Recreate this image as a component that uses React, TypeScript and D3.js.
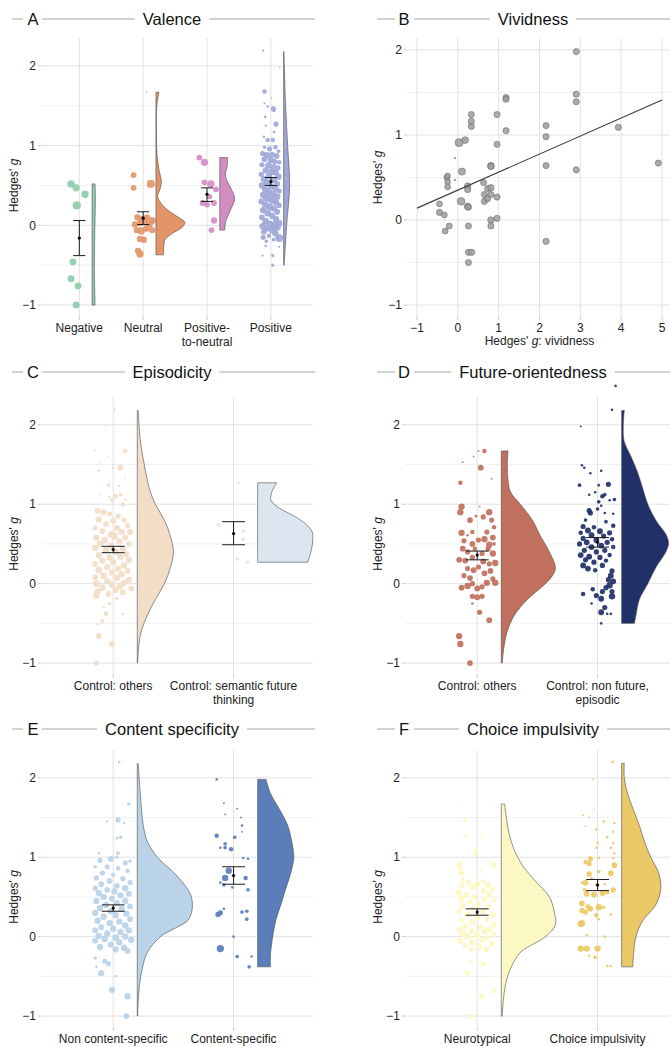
import React, { useEffect, useRef } from 'react';
import * as d3 from 'd3';

// [jitter in category units, Hedges' g, study weight]
type Pt = [number, number, number];
// [Hedges' g, density]
type Dens = [number, number];
// [mean, ci low, ci high]
type Stat = [number, number, number];

// ---------- A: Valence ----------
const valenceCats = ['Negative', 'Neutral', 'Positive-\nto-neutral', 'Positive'];
const valenceColors = ['#8FCCAB', '#E3956A', '#D28EC3', '#9EA7D8'];
const valenceStats: Stat[] = [[-0.16, -0.38, 0.06], [0.09, 0.01, 0.17], [0.39, 0.30, 0.47], [0.55, 0.50, 0.60]];

const negativePts: Pt[] = [
  [-0.13, 0.52, 80], [-0.05, 0.47, 80], [0.09, 0.39, 80], [-0.04, 0.25, 100],
  [-0.10, -0.46, 70], [-0.13, -0.67, 70], [-0.02, -0.76, 70], [-0.05, -1.0, 70],
];
const neutralPts: Pt[] = [
  [0.05, 1.67, 3], [-0.15, 0.63, 50], [-0.15, 0.47, 50], [0.12, 0.52, 100], [-0.09, 0.10, 60],
  [-0.02, 0.08, 60], [0.06, 0.10, 60], [0.14, 0.06, 80], [-0.13, 0.01, 60], [-0.05, 0.03, 60],
  [0.03, 0.05, 60], [0.10, 0.01, 60], [-0.10, -0.06, 60], [-0.03, -0.07, 80], [0.05, -0.04, 60],
  [0.14, -0.06, 60], [-0.05, -0.17, 60], [0.01, -0.18, 60], [-0.08, -0.32, 60], [-0.05, -0.36, 80],
];
const posNeutralPts: Pt[] = [
  [-0.12, 0.85, 50], [-0.04, 0.79, 80], [-0.04, 0.54, 50], [0.06, 0.52, 80], [0.14, 0.45, 50],
  [-0.07, 0.28, 50], [0.0, 0.26, 50], [0.11, 0.28, 50], [0.11, 0.06, 60], [0.07, -0.06, 50], [0.04, 0.36, 40],
];
const positivePts: Pt[] = [
  [-0.12, 2.19, 8], [0.14, 1.98, 4], [-0.10, 1.68, 30], [0.01, 1.60, 4], [-0.10, 1.53, 6], [-0.05, 1.49, 10],
  [0.04, 1.46, 40], [0.05, 1.43, 8], [-0.09, 1.36, 10], [0.08, 1.27, 40], [-0.08, 1.25, 8], [0.05, 1.17, 10],
  [-0.11, 1.11, 10], [-0.05, 1.07, 30], [0.03, 1.07, 30], [-0.10, 0.98, 20], [0.07, 0.98, 30], [-0.02, 0.96, 40],
  [0.12, 0.93, 20], [-0.13, 0.90, 40], [-0.06, 0.88, 60], [0.02, 0.89, 40], [0.09, 0.87, 50], [-0.10, 0.83, 50],
  [0.0, 0.82, 60], [0.06, 0.80, 40], [0.13, 0.79, 30], [-0.14, 0.76, 40], [-0.04, 0.75, 60], [0.04, 0.73, 60],
  [0.11, 0.72, 40], [-0.08, 0.69, 60], [0.01, 0.67, 60], [0.08, 0.66, 50], [-0.15, 0.64, 40], [-0.03, 0.62, 60],
  [0.12, 0.61, 60], [-0.11, 0.58, 60], [0.05, 0.57, 60], [-0.06, 0.54, 60], [0.10, 0.52, 50], [-0.14, 0.50, 60],
  [0.0, 0.49, 60], [0.07, 0.46, 60], [-0.09, 0.45, 60], [0.13, 0.43, 40], [-0.03, 0.41, 80], [0.04, 0.39, 60],
  [-0.12, 0.38, 60], [0.10, 0.36, 60], [-0.06, 0.34, 80], [0.02, 0.32, 80], [-0.15, 0.30, 50], [0.08, 0.29, 60],
  [-0.09, 0.26, 60], [0.13, 0.25, 40], [-0.02, 0.23, 80], [0.05, 0.21, 60], [-0.12, 0.19, 60], [0.10, 0.17, 50],
  [-0.05, 0.15, 60], [0.02, 0.12, 60], [-0.14, 0.10, 50], [0.08, 0.08, 60], [-0.08, 0.05, 70], [0.13, 0.03, 60],
  [-0.01, 0.01, 80], [0.06, 0.0, 90], [-0.13, -0.01, 60], [0.10, -0.02, 80], [-0.07, -0.04, 60], [0.02, -0.06, 70],
  [-0.11, -0.08, 50], [0.07, -0.10, 60], [-0.03, -0.13, 30], [0.13, -0.16, 90], [-0.12, -0.15, 40], [0.04, -0.18, 20],
  [-0.07, -0.20, 20], [0.13, -0.27, 8], [-0.08, -0.26, 10], [-0.13, -0.38, 8], [0.03, -0.38, 15], [0.03, -0.50, 15],
];

const negativeDens: Dens[] = [[0.52, 0.47], [0.3, 0.52], [0, 0.44], [-0.3, 0.38], [-0.6, 0.36], [-0.8, 0.41], [-1, 0.47]];
const neutralDens: Dens[] = [
  [1.67, 0.47], [1.5, 0.13], [1.2, 0.08], [0.9, 0.16], [0.7, 0.47], [0.55, 0.86], [0.45, 0.63], [0.36, 0.27],
  [0.23, 1.3], [0.15, 2.6], [0.08, 3.9], [0.04, 4.53], [-0.02, 4.17], [-0.1, 2.6], [-0.18, 1.41], [-0.25, 1.25], [-0.37, 1.2],
];
const posNeutralDens: Dens[] = [[0.85, 1.2], [0.75, 1.17], [0.62, 0.89], [0.45, 1.83], [0.33, 2.34], [0.2, 1.72], [0.05, 0.94], [-0.06, 0.78]];
const positiveDens: Dens[] = [[2.18, 0.05], [2.0, 0.11], [1.5, 0.31], [1.0, 0.63], [0.5, 0.94], [0.0, 0.47], [-0.3, 0.23], [-0.5, 0.08]];

// ---------- B: Vividness ----------
// [g vividness, g, weight]
const vividPts: Pt[] = [
  [2.9, 1.98, 60], [2.9, 1.48, 60], [2.9, 1.39, 60], [2.9, 0.59, 60], [1.18, 1.44, 60], [1.18, 1.42, 60], [1.18, 1.05, 60],
  [0.33, 1.24, 60], [0.33, 1.16, 60], [0.33, 1.10, 60], [0.96, 1.24, 60], [0.96, 0.89, 60], [2.16, 1.11, 60], [2.16, 0.98, 60],
  [2.16, 0.64, 60], [2.16, -0.25, 60], [3.93, 1.09, 60], [4.91, 0.67, 60], [0.03, 0.91, 100], [0.18, 0.94, 70], [-0.07, 0.73, 4],
  [-0.07, 0.47, 4], [0.1, 0.57, 80], [-0.27, 0.5, 55], [-0.25, 0.52, 50], [-0.25, 0.45, 50], [-0.25, 0.39, 55], [0.24, 0.40, 65],
  [0.24, 0.36, 65], [0.63, 0.44, 60], [0.65, 0.30, 60], [0.65, 0.22, 60], [0.73, 0.37, 60], [0.73, 0.25, 60], [0.81, 0.64, 65],
  [0.81, 0.63, 65], [0.81, 0.38, 65], [0.81, 0.30, 60], [0.96, 0.27, 60], [0.08, 0.22, 90], [0.24, 0.16, 70], [0.26, 0.15, 60],
  [-0.45, 0.19, 55], [-0.45, 0.09, 60], [-0.33, 0.06, 55], [-0.21, -0.07, 55], [-0.31, -0.13, 55], [0.26, -0.07, 60],
  [0.81, 0.0, 65], [0.81, -0.07, 60], [0.96, 0.02, 60], [0.26, -0.38, 60], [0.34, -0.38, 60], [0.26, -0.5, 60],
];
const vividFit: [number, number][] = [[-1, 0.14], [5, 1.41]];
const vividTicks = [-1, 0, 1, 2, 3, 4, 5];

// ---------- C: Episodicity ----------
const episodCats = ['Control: others', 'Control: semantic future\nthinking'];
const episodColors = ['#F2DDC7', '#DCE6F1'];
const episodStats: Stat[] = [[0.43, 0.39, 0.47], [0.63, 0.49, 0.78]];
const episodOthersPts: Pt[] = [
  [0.01, 2.19, 10], [-0.06, 1.98, 5], [-0.15, 1.68, 5], [0.10, 1.67, 30], [-0.05, 1.60, 5], [-0.11, 1.53, 5], [0.06, 1.46, 50],
  [0.0, 1.46, 10], [-0.12, 1.42, 10], [0.10, 1.32, 5], [-0.04, 1.24, 20], [0.05, 1.23, 10], [-0.11, 1.12, 5], [0.02, 1.10, 30],
  [-0.03, 1.09, 10], [0.06, 1.12, 20], [-0.01, 1.05, 20], [0.10, 1.06, 10], [0.08, 1.0, 30],
  [-0.13, 0.92, 50], [-0.08, 0.90, 60], [-0.03, 0.88, 40], [0.04, 0.85, 40], [-0.12, 0.81, 60], [0.0, 0.79, 50], [0.09, 0.80, 40],
  [-0.06, 0.75, 50], [0.12, 0.73, 40], [-0.15, 0.70, 40], [0.03, 0.70, 60], [-0.09, 0.66, 50], [0.07, 0.65, 60], [0.14, 0.65, 60],
  [-0.02, 0.62, 60], [0.01, 0.60, 80], [-0.14, 0.58, 60], [0.10, 0.58, 50], [-0.07, 0.55, 60], [0.05, 0.53, 60], [-0.11, 0.50, 60],
  [0.13, 0.50, 50], [-0.02, 0.48, 60], [-0.15, 0.45, 60], [0.08, 0.44, 60], [-0.06, 0.42, 60], [0.02, 0.40, 60], [0.11, 0.37, 50],
  [-0.12, 0.36, 60], [0.06, 0.34, 60], [-0.03, 0.33, 60], [0.13, 0.30, 60], [-0.09, 0.29, 60], [0.0, 0.27, 60], [-0.15, 0.25, 50],
  [0.09, 0.23, 60], [-0.05, 0.21, 60], [0.04, 0.19, 60], [-0.12, 0.17, 70], [0.12, 0.16, 50], [-0.01, 0.14, 60], [0.07, 0.12, 60],
  [-0.08, 0.10, 60], [-0.15, 0.08, 50], [0.03, 0.07, 70], [0.13, 0.05, 60], [-0.05, 0.03, 60], [0.09, 0.01, 60], [-0.14, 0.0, 70],
  [-0.01, -0.01, 60], [0.06, -0.03, 70], [0.15, -0.06, 50], [-0.09, -0.05, 60], [0.02, -0.08, 60], [-0.13, -0.10, 60],
  [0.08, -0.11, 50], [-0.04, -0.13, 50], [-0.14, -0.15, 60],
  [0.03, -0.19, 20], [-0.03, -0.25, 20], [-0.08, -0.29, 10], [-0.06, -0.38, 30], [0.08, -0.38, 10], [-0.13, -0.51, 10],
  [-0.09, -0.47, 30], [-0.12, -0.66, 50], [-0.01, -0.76, 50], [-0.14, -1.0, 40],
];
const episodSemanticPts: Pt[] = [[-0.125, 0.74, 20], [0.083, 0.66, 20], [0.078, 0.56, 20], [0.033, 0.31, 20], [0.117, 0.27, 20], [0.042, 1.27, 10]];
const episodOthersDens: Dens[] = [
  [2.18, 0.08], [1.8, 0.25], [1.5, 0.58], [1.2, 1.0], [1.0, 1.5], [0.8, 2.25], [0.6, 2.75], [0.4, 3.0], [0.2, 2.75],
  [0.0, 2.25], [-0.2, 1.5], [-0.4, 0.83], [-0.6, 0.33], [-0.8, 0.11], [-1, 0.03],
];
const episodSemanticDens: Dens[] = [
  [1.27, 1.58], [1.15, 1.17], [1.05, 1.11], [0.95, 1.81], [0.85, 3.06], [0.75, 4.0], [0.65, 4.54], [0.55, 4.58],
  [0.45, 4.5], [0.35, 4.33], [0.27, 4.17],
];

// ---------- D: Future-orientedness ----------
const futureCats = ['Control: others', 'Control: non future,\nepisodic'];
const futureColors = ['#C0705C', '#22306A'];
const futureStats: Stat[] = [[0.36, 0.30, 0.41], [0.52, 0.46, 0.58]];
const futureOthersPts: Pt[] = [
  [0.01, 1.67, 5], [0.06, 1.67, 30], [-0.03, 1.60, 5], [-0.12, 1.53, 5], [0.03, 1.46, 50], [0.12, 1.32, 5], [-0.14, 1.27, 30],
  [0.02, 0.97, 5], [-0.13, 0.97, 60], [-0.14, 0.90, 60], [-0.06, 0.80, 50], [-0.01, 0.85, 10], [0.05, 0.84, 40], [0.10, 0.90, 60],
  [0.12, 0.80, 40], [0.14, 0.71, 30], [-0.13, 0.64, 60], [-0.04, 0.65, 30], [0.08, 0.65, 40], [-0.08, 0.61, 10], [-0.11, 0.54, 40],
  [-0.04, 0.50, 50], [0.01, 0.55, 40], [0.06, 0.56, 60], [0.10, 0.49, 60], [0.14, 0.50, 20], [-0.08, 0.40, 40], [-0.15, 0.30, 50],
  [-0.10, 0.29, 50], [-0.04, 0.33, 40], [0.04, 0.38, 40], [0.13, 0.38, 60], [0.15, 0.26, 60], [0.10, 0.25, 40], [-0.08, 0.19, 40],
  [-0.03, 0.17, 50], [0.01, 0.21, 40], [0.06, 0.13, 50], [0.13, 0.06, 40], [0.08, 0.01, 60], [0.15, 0.01, 60], [-0.13, -0.05, 50],
  [-0.08, -0.03, 60], [-0.04, 0.0, 40], [0.0, -0.06, 50], [0.04, -0.04, 40], [-0.04, -0.16, 40], [0.0, -0.17, 50], [0.04, -0.16, 40],
  [-0.04, -0.25, 10], [0.02, -0.36, 40], [0.10, -0.46, 50], [-0.15, -0.66, 60], [-0.14, -0.76, 60], [-0.06, -1.0, 50],
  [-0.12, 0.44, 50], [0.09, 0.44, 40], [-0.02, 0.44, 30], [0.11, 0.16, 50], [-0.11, 0.10, 40], [0.05, 0.28, 50], [-0.06, 0.07, 50], [0.13, 0.58, 50],
];
const futureEpisodicPts: Pt[] = [
  [0.15, 2.49, 10], [0.12, 2.19, 10], [-0.14, 1.98, 5], [-0.13, 1.49, 10], [-0.11, 1.46, 10], [0.03, 1.42, 10], [-0.06, 1.39, 10],
  [-0.15, 1.24, 20], [0.01, 1.24, 10], [0.09, 1.25, 40], [-0.07, 1.12, 10], [-0.02, 1.15, 10], [0.04, 1.10, 30], [0.06, 1.12, 20],
  [0.14, 1.06, 20], [0.01, 1.03, 20], [0.03, 0.98, 10], [0.10, 1.05, 10], [-0.07, 0.92, 40], [-0.06, 0.89, 40], [0.0, 0.94, 20],
  [0.06, 0.89, 10], [0.13, 0.88, 10],
  [-0.10, 0.80, 20], [0.07, 0.78, 20], [-0.12, 0.72, 40], [-0.03, 0.71, 30], [0.13, 0.73, 30], [-0.08, 0.67, 50], [0.02, 0.66, 50],
  [-0.14, 0.64, 30], [0.10, 0.64, 40], [-0.05, 0.61, 50], [0.05, 0.60, 40], [-0.12, 0.57, 40], [0.12, 0.56, 30], [-0.01, 0.55, 50],
  [-0.09, 0.52, 50], [0.08, 0.52, 40], [-0.15, 0.50, 40], [0.03, 0.48, 50], [-0.05, 0.46, 50], [0.13, 0.46, 30], [-0.11, 0.42, 40],
  [0.06, 0.42, 40], [-0.01, 0.40, 40], [-0.14, 0.36, 50], [-0.07, 0.34, 50], [0.10, 0.36, 30], [0.02, 0.33, 40], [-0.10, 0.30, 40],
  [0.07, 0.29, 30], [-0.03, 0.27, 40], [-0.12, 0.23, 50], [0.04, 0.23, 40], [-0.08, 0.19, 50], [0.12, 0.16, 40], [-0.02, 0.17, 30],
  [0.11, 0.10, 50], [0.09, 0.05, 40], [0.13, 0.03, 50], [0.10, -0.02, 60], [0.07, -0.05, 40], [-0.04, -0.07, 30], [0.04, -0.10, 40],
  [0.12, -0.10, 40], [-0.01, -0.15, 40], [0.03, -0.19, 50], [0.12, -0.16, 60], [-0.12, -0.13, 30], [-0.05, -0.25, 10],
  [0.06, -0.30, 40], [0.03, -0.36, 50], [0.08, -0.38, 10], [0.11, -0.38, 10], [0.03, -0.50, 10],
];
const futureOthersDens: Dens[] = [
  [1.67, 0.56], [1.5, 0.5], [1.3, 0.56], [1.15, 0.78], [1.0, 1.58], [0.8, 2.58], [0.6, 3.25], [0.4, 4.0], [0.2, 4.5],
  [0.1, 4.25], [0.0, 3.67], [-0.2, 2.17], [-0.4, 1.08], [-0.6, 0.5], [-0.8, 0.22], [-1, 0.08],
];
const futureEpisodicDens: Dens[] = [
  [2.18, 0.22], [2.0, 0.14], [1.8, 0.2], [1.6, 0.78], [1.4, 1.33], [1.2, 1.75], [1.0, 2.17], [0.8, 2.83], [0.6, 3.75],
  [0.5, 3.89], [0.4, 3.67], [0.2, 2.83], [0.0, 2.17], [-0.2, 1.47], [-0.4, 1.19], [-0.5, 1.06],
];

// ---------- E: Content specificity ----------
const contentCats = ['Non content-specific', 'Content-specific'];
const contentColors = ['#BAD3E8', '#5B7DBA'];
const contentStats: Stat[] = [[0.36, 0.32, 0.40], [0.77, 0.66, 0.88]];
const nonSpecificPts: Pt[] = [
  [0.05, 2.20, 10], [0.13, 1.67, 20], [-0.05, 1.45, 10], [0.04, 1.47, 40], [0.09, 1.43, 10], [0.03, 1.24, 10], [0.06, 1.25, 20],
  [-0.12, 1.05, 10], [0.04, 1.05, 20], [0.03, 1.0, 20],
  [-0.11, 0.96, 40], [-0.02, 0.98, 50], [0.10, 0.93, 40], [0.14, 0.95, 20], [-0.15, 0.88, 20], [-0.05, 0.88, 40], [0.04, 0.86, 30],
  [0.12, 0.83, 30], [-0.09, 0.80, 40], [0.0, 0.78, 30], [-0.14, 0.74, 40], [0.08, 0.73, 40], [-0.03, 0.70, 50], [0.14, 0.68, 40],
  [-0.10, 0.66, 50], [0.03, 0.64, 50], [-0.15, 0.61, 40], [0.10, 0.61, 60], [-0.05, 0.59, 50], [0.01, 0.57, 60], [-0.12, 0.55, 60],
  [0.13, 0.54, 50], [0.06, 0.52, 60], [-0.08, 0.50, 60], [-0.01, 0.48, 50], [-0.14, 0.45, 60], [0.10, 0.45, 60], [0.03, 0.42, 60],
  [-0.06, 0.40, 60], [0.14, 0.38, 50], [-0.11, 0.36, 60], [0.07, 0.35, 60], [-0.02, 0.32, 60], [-0.15, 0.30, 60], [0.11, 0.29, 60],
  [0.02, 0.27, 60], [-0.08, 0.25, 60], [0.14, 0.22, 50], [-0.13, 0.20, 60], [0.05, 0.19, 60], [-0.03, 0.17, 60], [0.10, 0.14, 60],
  [-0.10, 0.12, 50], [0.0, 0.10, 60], [-0.15, 0.08, 50], [0.13, 0.08, 60], [0.06, 0.06, 60], [-0.05, 0.04, 60], [-0.12, 0.01, 60],
  [0.10, 0.0, 60], [0.02, -0.01, 60], [-0.07, -0.03, 60], [0.15, -0.04, 60], [-0.15, -0.05, 50], [0.05, -0.07, 60],
  [-0.02, -0.10, 60], [-0.11, -0.13, 60], [0.09, -0.14, 60], [0.02, -0.16, 60], [0.12, -0.18, 50],
  [-0.15, -0.27, 20], [-0.14, -0.38, 10], [-0.07, -0.31, 40], [-0.04, -0.34, 40], [-0.10, -0.46, 60], [0.02, -0.50, 10],
  [-0.01, -0.67, 60], [0.12, -0.75, 60], [0.11, -1.0, 50],
];
const specificPts: Pt[] = [
  [-0.14, 1.98, 10], [-0.08, 1.68, 5], [0.03, 1.61, 5], [-0.07, 1.54, 5], [0.06, 1.50, 5], [0.07, 1.40, 10], [0.07, 1.32, 5],
  [-0.14, 1.27, 30], [0.01, 1.25, 20], [-0.07, 1.17, 20], [-0.11, 1.12, 10], [-0.07, 1.12, 20], [-0.02, 1.10, 30], [0.08, 0.99, 10],
  [0.12, 0.98, 10], [-0.04, 0.83, 60], [-0.07, 0.74, 60], [0.10, 0.74, 30], [-0.11, 0.68, 10], [-0.08, 0.65, 20], [-0.01, 0.62, 10],
  [0.12, 0.59, 20], [-0.13, 0.28, 40], [-0.11, 0.30, 40], [-0.08, 0.35, 10], [0.07, 0.31, 20], [0.11, 0.32, 20], [0.11, 0.22, 20],
  [0.0, 0.0, 10], [-0.11, -0.15, 80], [0.03, -0.25, 20], [0.15, -0.25, 10], [0.13, -0.38, 20],
];
const nonSpecificDens: Dens[] = [
  [2.18, 0.08], [1.8, 0.25], [1.4, 0.5], [1.2, 0.83], [1.0, 1.67], [0.8, 3.08], [0.6, 4.17], [0.5, 4.5], [0.4, 4.58],
  [0.3, 4.5], [0.2, 4.17], [0.1, 3.08], [0.0, 1.92], [-0.2, 0.83], [-0.4, 0.42], [-0.6, 0.19], [-0.8, 0.08], [-1, 0.03],
];
const specificDens: Dens[] = [
  [1.98, 0.69], [1.8, 1.08], [1.6, 1.83], [1.4, 2.5], [1.2, 2.83], [1.0, 3.0], [0.8, 2.75], [0.6, 2.33], [0.4, 1.92],
  [0.2, 1.5], [0.0, 1.25], [-0.2, 1.08], [-0.38, 1.06],
];

// ---------- F: Choice impulsivity ----------
const impulsCats = ['Neurotypical', 'Choice impulsivity'];
const impulsColors = ['#FCF8C4', '#EBC966'];
const impulsStats: Stat[] = [[0.31, 0.27, 0.35], [0.65, 0.58, 0.72]];
const neurotypicalPts: Pt[] = [
  [-0.14, 1.67, 5], [0.12, 1.67, 10], [-0.10, 1.46, 30], [-0.10, 1.27, 20], [0.04, 1.25, 10], [-0.01, 1.08, 30], [-0.02, 1.04, 30],
  [0.09, 0.94, 10], [0.14, 0.90, 50], [-0.15, 0.91, 40], [-0.14, 0.87, 40], [-0.13, 0.80, 50], [0.03, 0.84, 10], [-0.12, 0.72, 30],
  [-0.07, 0.68, 40], [0.05, 0.70, 30], [-0.13, 0.65, 50], [0.0, 0.66, 60], [0.09, 0.65, 60], [-0.04, 0.62, 50], [0.13, 0.60, 40],
  [-0.15, 0.56, 60], [0.05, 0.58, 40], [-0.09, 0.53, 50], [0.10, 0.53, 60], [-0.02, 0.51, 50], [-0.13, 0.48, 60], [0.06, 0.47, 50],
  [0.14, 0.46, 40], [-0.06, 0.44, 50], [0.01, 0.41, 50], [-0.12, 0.39, 60], [0.10, 0.38, 40], [-0.03, 0.36, 40], [-0.15, 0.32, 40],
  [0.05, 0.32, 50], [0.13, 0.28, 50], [-0.08, 0.28, 60], [0.0, 0.24, 50], [-0.13, 0.21, 40], [0.08, 0.22, 40], [-0.04, 0.18, 50],
  [0.14, 0.15, 50], [-0.10, 0.13, 50], [0.03, 0.12, 50], [-0.15, 0.09, 40], [0.10, 0.09, 60], [-0.05, 0.07, 50], [0.06, 0.06, 50],
  [-0.12, 0.04, 60], [0.14, 0.03, 40], [0.0, 0.02, 60], [-0.08, 0.0, 60], [0.09, -0.01, 40], [-0.14, -0.05, 60], [0.04, -0.04, 60],
  [-0.04, -0.07, 60], [0.12, -0.09, 50], [-0.10, -0.11, 40], [0.02, -0.13, 50], [-0.05, -0.16, 40], [0.08, -0.16, 50],
  [-0.06, -0.31, 20], [0.05, -0.34, 40], [-0.08, -0.46, 40], [0.07, -0.50, 10], [0.14, -0.68, 40], [0.04, -0.75, 50], [-0.06, -1.0, 40],
];
const impulsivePts: Pt[] = [
  [0.125, 2.2, 10], [-0.04, 1.98, 5], [-0.03, 1.6, 5], [-0.12, 1.53, 5], [-0.07, 1.5, 5], [0.05, 1.45, 10], [0.14, 1.43, 10],
  [-0.10, 1.39, 5], [-0.01, 1.35, 10], [0.13, 1.32, 10], [0.08, 1.25, 10], [0.0, 1.18, 10], [0.13, 1.18, 10], [-0.01, 1.12, 10],
  [0.11, 1.12, 10], [0.14, 1.05, 10], [0.01, 0.99, 10], [0.13, 0.99, 10], [-0.06, 0.98, 40], [-0.10, 0.94, 30], [-0.07, 0.92, 40],
  [0.14, 0.90, 50], [0.01, 0.82, 20], [0.11, 0.80, 50], [-0.07, 0.79, 40], [-0.05, 0.74, 10], [-0.13, 0.68, 10], [-0.10, 0.68, 50],
  [0.06, 0.66, 10], [-0.01, 0.66, 10], [0.13, 0.59, 40], [-0.11, 0.59, 20], [-0.09, 0.54, 50], [-0.03, 0.53, 50], [0.04, 0.55, 50],
  [0.08, 0.56, 30], [-0.13, 0.42, 50], [-0.08, 0.38, 40], [-0.06, 0.35, 50], [0.01, 0.37, 60], [-0.13, 0.33, 40], [-0.10, 0.31, 40],
  [0.05, 0.37, 20], [0.11, 0.28, 10], [-0.01, 0.27, 30], [0.01, 0.22, 10], [-0.14, 0.16, 60], [-0.13, 0.17, 60], [-0.09, 0.02, 10],
  [0.06, 0.0, 10], [-0.14, -0.15, 60], [-0.09, -0.15, 60], [0.0, -0.15, 60], [-0.02, -0.26, 20], [-0.07, -0.24, 10],
  [0.08, -0.37, 10], [0.11, -0.37, 10],
];
const neurotypicalDens: Dens[] = [
  [1.67, 0.28], [1.5, 0.42], [1.3, 0.64], [1.1, 1.06], [0.9, 1.75], [0.7, 2.83], [0.5, 4.0], [0.3, 4.42], [0.15, 4.5],
  [0.0, 3.67], [-0.2, 1.58], [-0.4, 0.78], [-0.6, 0.36], [-0.8, 0.17], [-1, 0.08],
];
const impulsiveDens: Dens[] = [
  [2.18, 0.22], [2.0, 0.22], [1.8, 0.5], [1.6, 0.97], [1.4, 1.47], [1.2, 1.89], [1.0, 2.42], [0.8, 3.08], [0.6, 3.25],
  [0.4, 2.83], [0.2, 1.75], [0.0, 1.19], [-0.2, 1.0], [-0.38, 0.92],
];

const gTicks = [-1, 0, 1, 2];
const gMinor = [-0.5, 0.5, 1.5];

const FONT = '"Liberation Sans", Arial, Helvetica, sans-serif';
const COL_LEFT = { plotLeft: 41, lineStart: 12, lineEnd: 23, letterX: 33, line2Start: 42, titleX: 172, end: 315 };
const COL_RIGHT = { plotLeft: 405, lineStart: 377, lineEnd: 395, letterX: 404, line2Start: 414, titleX: 533, end: 672 };
const ROWS = [
  { top: 38, bottom: 317, head: 19 },
  { top: 397, bottom: 675, head: 372 },
  { top: 750, bottom: 1028, head: 729 },
];

type Sel = d3.Selection<SVGGElement, unknown, null, undefined>;

function drawHeader(svg: Sel, col: typeof COL_LEFT, y: number, letter: string, title: string) {
  const g = svg.append('g').attr('font-size', 16.5).attr('fill', '#111');
  const line = (a: number, b: number) =>
    g.append('line').attr('x1', a).attr('x2', b).attr('y1', y).attr('y2', y).attr('stroke', '#a6a6a6').attr('stroke-width', 1);
  line(col.lineStart, col.lineEnd);
  g.append('text').attr('x', col.letterX).attr('y', y).attr('dy', '0.36em').attr('text-anchor', 'middle').text(letter);
  const t = g.append('text').attr('x', col.titleX).attr('y', y).attr('dy', '0.36em').attr('text-anchor', 'middle').text(title);
  const w = (t.node() as SVGTextElement).getComputedTextLength();
  line(col.line2Start, col.titleX - w / 2 - 8);
  line(col.titleX + w / 2 + 8, col.end);
}

function yTitle(g: Sel, x: number, y: number) {
  const t = g.append('text').attr('transform', `translate(${x},${y}) rotate(-90)`)
    .attr('text-anchor', 'middle').attr('font-size', 12).attr('fill', '#222');
  t.append('tspan').text("Hedges' ");
  t.append('tspan').attr('font-style', 'italic').text('g');
  return t;
}

function drawYGrid(g: Sel, y: d3.ScaleLinear<number, number>, x0: number, x1: number) {
  g.selectAll(null).data(gMinor).join('line')
    .attr('x1', x0).attr('x2', x1).attr('y1', d => y(d)).attr('y2', d => y(d))
    .attr('stroke', '#f1f1f1').attr('stroke-width', 1);
  g.selectAll(null).data(gTicks).join('line')
    .attr('x1', x0).attr('x2', x1).attr('y1', d => y(d)).attr('y2', d => y(d))
    .attr('stroke', '#e2e2e2').attr('stroke-width', 1);
  g.selectAll(null).data(gTicks).join('line')
    .attr('x1', x0 - 3).attr('x2', x0).attr('y1', d => y(d)).attr('y2', d => y(d))
    .attr('stroke', '#c8c8c8');
  g.selectAll(null).data(gTicks).join('text')
    .attr('x', x0 - 5).attr('y', d => y(d)).attr('dy', '0.35em').attr('text-anchor', 'end')
    .attr('font-size', 12).attr('fill', '#222')
    .text(d => (d < 0 ? '\u2212' + Math.abs(d) : String(d)));
}

interface Rain {
  col: typeof COL_LEFT;
  row: typeof ROWS[0];
  letter: string;
  title: string;
  cats: string[];
  colors: string[];
  points: Pt[][];
  dens: Dens[][];
  stats: Stat[];
}

function drawRaincloud(svg: Sel, p: Rain) {
  const { plotLeft } = p.col;
  const x = d3.scaleLinear().domain([0.4, p.cats.length + 0.66]).range([plotLeft, plotLeft + 272]);
  const step = x(2) - x(1);
  const y = d3.scaleLinear().domain([-1.15, 2.35]).range([p.row.bottom, p.row.top]);
  const r = d3.scaleSqrt().domain([0, 100]).range([0, 4.1]);
  const dens = d3.scaleLinear().domain([0, 10]).range([0, step]);
  const g = svg.append('g');

  drawYGrid(g, y, x.range()[0], x.range()[1]);
  p.cats.forEach((c, i) => {
    g.append('line').attr('x1', x(i + 1)).attr('x2', x(i + 1)).attr('y1', p.row.top).attr('y2', p.row.bottom)
      .attr('stroke', '#e2e2e2');
    g.append('line').attr('x1', x(i + 1)).attr('x2', x(i + 1)).attr('y1', p.row.bottom).attr('y2', p.row.bottom + 3)
      .attr('stroke', '#c8c8c8');
    const t = g.append('text').attr('x', x(i + 1)).attr('y', p.row.bottom + 15).attr('text-anchor', 'middle')
      .attr('font-size', 12).attr('fill', '#222');
    c.split('\n').forEach((line, k) => {
      t.append('tspan').attr('x', x(i + 1)).attr('dy', k === 0 ? 0 : 14).text(line);
    });
  });
  yTitle(g, plotLeft - 23, y(0.5));

  // rain: jittered study effects
  p.points.forEach((pts, i) => {
    g.append('g').selectAll('circle').data(pts).join('circle')
      .attr('cx', d => x(i + 1 + d[0]))
      .attr('cy', d => y(d[1]))
      .attr('r', d => r(d[2]))
      .attr('fill', p.colors[i])
      .attr('fill-opacity', 0.92);
  });

  // clouds: half violins
  p.dens.forEach((dd, i) => {
    const base = x(i + 1.2);
    const area = d3.area<Dens>()
      .curve(d3.curveCatmullRom.alpha(0.5))
      .y(d => y(d[0]))
      .x0(base)
      .x1(d => base + dens(d[1]));
    g.append('path').attr('d', area(dd) as string)
      .attr('fill', p.colors[i]).attr('stroke', '#4a4a4a').attr('stroke-width', 0.6);
  });

  // mean and CI
  p.stats.forEach((s, i) => {
    const cx = x(i + 1);
    const hw = 0.095 * step;
    const eg = g.append('g').attr('stroke', '#1a1a1a').attr('stroke-width', 1);
    eg.append('line').attr('x1', cx).attr('x2', cx).attr('y1', y(s[1])).attr('y2', y(s[2]));
    eg.append('line').attr('x1', cx - hw).attr('x2', cx + hw).attr('y1', y(s[1])).attr('y2', y(s[1]));
    eg.append('line').attr('x1', cx - hw).attr('x2', cx + hw).attr('y1', y(s[2])).attr('y2', y(s[2]));
    g.append('circle').attr('cx', cx).attr('cy', y(s[0])).attr('r', 1.6).attr('fill', '#000');
  });

  drawHeader(svg, p.col, p.row.head, p.letter, p.title);
}

function drawVividness(svg: Sel) {
  const row = ROWS[0];
  const x = d3.scaleLinear().domain([-1.245, 5.245]).range([407, 672]);
  const y = d3.scaleLinear().domain([-1.14, 2.14]).range([row.bottom, row.top]);
  const r = d3.scaleSqrt().domain([0, 100]).range([0, 4.0]);
  const g = svg.append('g');
  drawYGrid(g, y, x.range()[0], x.range()[1]);
  g.selectAll(null).data(vividTicks).join('line')
    .attr('x1', d => x(d)).attr('x2', d => x(d)).attr('y1', row.top).attr('y2', row.bottom)
    .attr('stroke', '#e2e2e2');
  g.selectAll(null).data(vividTicks).join('line')
    .attr('x1', d => x(d)).attr('x2', d => x(d)).attr('y1', row.bottom).attr('y2', row.bottom + 3)
    .attr('stroke', '#c8c8c8');
  g.selectAll(null).data(vividTicks).join('text')
    .attr('x', d => x(d)).attr('y', row.bottom + 15).attr('text-anchor', 'middle')
    .attr('font-size', 12).attr('fill', '#222')
    .text(d => (d < 0 ? '\u2212' + Math.abs(d) : String(d)));
  yTitle(g, 405 - 23, y(0.5));
  const xt = g.append('text').attr('x', (x.range()[0] + x.range()[1]) / 2).attr('y', row.bottom + 28)
    .attr('text-anchor', 'middle').attr('font-size', 12).attr('fill', '#222');
  xt.append('tspan').text("Hedges' ");
  xt.append('tspan').attr('font-style', 'italic').text('g');
  xt.append('tspan').text(': vividness');

  g.append('g').selectAll('circle').data(vividPts).join('circle')
    .attr('cx', d => x(d[0])).attr('cy', d => y(d[1])).attr('r', d => r(d[2]))
    .attr('fill', '#9c9c9c').attr('fill-opacity', 0.85)
    .attr('stroke', '#5a5a5a').attr('stroke-width', 0.5);

  const line = d3.line<[number, number]>().x(d => x(d[0])).y(d => y(d[1]));
  g.append('path').attr('d', line(vividFit) as string).attr('fill', 'none')
    .attr('stroke', '#3c3c3c').attr('stroke-width', 1.1);

  drawHeader(svg, COL_RIGHT, row.head, 'B', 'Vividness');
}

export default function App() {
  const ref = useRef<SVGSVGElement>(null);

  useEffect(() => {
    const root = d3.select(ref.current);
    root.selectAll('*').remove();
    const svg = root.append('g') as unknown as Sel;

    drawRaincloud(svg, {
      col: COL_LEFT, row: ROWS[0], letter: 'A', title: 'Valence',
      cats: valenceCats, colors: valenceColors,
      points: [negativePts, neutralPts, posNeutralPts, positivePts],
      dens: [negativeDens, neutralDens, posNeutralDens, positiveDens],
      stats: valenceStats,
    });
    drawVividness(svg);
    drawRaincloud(svg, {
      col: COL_LEFT, row: ROWS[1], letter: 'C', title: 'Episodicity',
      cats: episodCats, colors: episodColors,
      points: [episodOthersPts, episodSemanticPts],
      dens: [episodOthersDens, episodSemanticDens],
      stats: episodStats,
    });
    drawRaincloud(svg, {
      col: COL_RIGHT, row: ROWS[1], letter: 'D', title: 'Future-orientedness',
      cats: futureCats, colors: futureColors,
      points: [futureOthersPts, futureEpisodicPts],
      dens: [futureOthersDens, futureEpisodicDens],
      stats: futureStats,
    });
    drawRaincloud(svg, {
      col: COL_LEFT, row: ROWS[2], letter: 'E', title: 'Content specificity',
      cats: contentCats, colors: contentColors,
      points: [nonSpecificPts, specificPts],
      dens: [nonSpecificDens, specificDens],
      stats: contentStats,
    });
    drawRaincloud(svg, {
      col: COL_RIGHT, row: ROWS[2], letter: 'F', title: 'Choice impulsivity',
      cats: impulsCats, colors: impulsColors,
      points: [neurotypicalPts, impulsivePts],
      dens: [neurotypicalDens, impulsiveDens],
      stats: impulsStats,
    });
  }, []);

  return (
    <svg
      ref={ref}
      width={670}
      height={1047}
      style={{ position: 'absolute', left: 0, top: 0, background: '#fff', fontFamily: FONT }}
    />
  );
}
